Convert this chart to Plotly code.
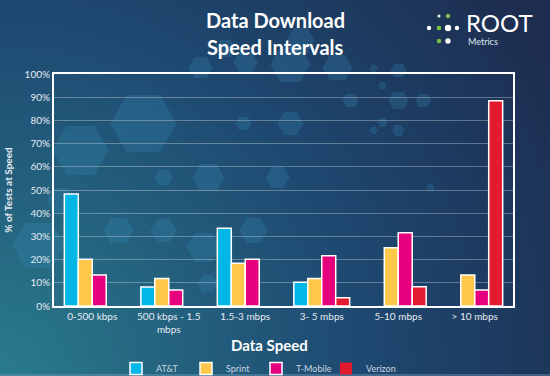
import base64, zlib, struct
import numpy as np
import plotly.graph_objects as go

categories = ["0-500 kbps", "500 kbps - 1.5<br>mbps", "1.5-3 mbps", "3- 5 mbps", "5-10 mbps", "> 10 mbps"]
att = [48.3, 8.2, 33.5, 10.2, 0, 0]
sprint = [20.1, 11.8, 18.4, 11.8, 25.1, 13.4]
tmobile = [13.4, 6.9, 20.1, 21.7, 31.6, 6.9]
verizon = [0, 0, 0, 3.6, 8.3, 88.5]
series_names = ["AT&T", "Sprint", "T-Mobile", "Verizon"]
series_colors = ["#00B7E8", "#FFC84A", "#E6007E", "#E31B30"]
y_ticks = list(range(0, 101, 10))
y_tick_labels = [f"{v}%" for v in y_ticks]

W, H = 550, 376
L, R, T, B = 54, 37, 74, 70
PW, PH = W - L - R, H - T - B

# ---- background image (gradient + decorative hexagons) ----
yy, xx = np.mgrid[0:H, 0:W].astype(float)
d = np.sqrt(xx ** 2 + (H - yy) ** 2)
w = np.clip(1 - d / 640.0, 0, 1)
navy = np.array([29, 45, 80], float)
blue = np.array([31, 74, 114], float)
teal = np.array([42, 124, 140], float)
w1 = np.clip(w / 0.45, 0, 1)[..., None]
w2 = np.clip((w - 0.45) / 0.55, 0, 1)[..., None]
img = navy + (blue - navy) * w1 + (teal - blue) * w2

hexes = [
    (143, 123, 33), (80, 150, 28), (163, 177, 9), (118, 230, 15), (163, 230, 13),
    (38, 245, 26), (243, 123, 8), (290, 123, 13), (208, 177, 16), (277, 177, 12),
    (253, 230, 14), (203, 247, 17), (207, 283, 10), (200, 67, 12), (290, 64, 20),
    (337, 67, 15), (350, 100, 8), (398, 70, 8), (398, 100, 10), (423, 100, 8),
    (382, 85, 4), (382, 122, 5), (373, 130, 4), (398, 130, 6), (430, 187, 4),
    (373, 68, 4), (245, 62, 12), (225, 48, 10), (300, 40, 14), (60, 200, 14),
]
s3 = np.sqrt(3)
for cx, cy, r in hexes:
    dx = np.abs(xx - cx)
    dy = np.abs(yy - cy)
    m = (dy <= r * s3 / 2) & (s3 * dx + dy <= s3 * r)
    img[m] = img[m] * 0.75 + np.array([55, 140, 185]) * 0.25
img[H - 2:H] = img[H - 2:H] * 0.6 + np.array([120, 160, 190]) * 0.4

img = np.clip(img, 0, 255).astype(np.uint8)
raw = b"".join(b"\x00" + img[i].tobytes() for i in range(H))

def chunk(tag, data):
    c = struct.pack(">I", len(data)) + tag + data
    return c + struct.pack(">I", zlib.crc32(tag + data) & 0xffffffff)

png = b"\x89PNG\r\n\x1a\n" + chunk(b"IHDR", struct.pack(">IIBBBBB", W, H, 8, 2, 0, 0, 0)) \
    + chunk(b"IDAT", zlib.compress(raw, 9)) + chunk(b"IEND", b"")
bg_src = "data:image/png;base64," + base64.b64encode(png).decode()

fig = go.Figure()
for name, vals, col in zip(series_names, [att, sprint, tmobile, verizon], series_colors):
    fig.add_trace(go.Bar(
        name=name, x=categories, y=vals,
        marker=dict(color=col, line=dict(color="white", width=[1.5 if v > 0 else 0 for v in vals])),
    ))

font = "Lato, 'Open Sans', sans-serif"

def px_x(p):
    return (p - L) / PW

def px_y(p):
    return (H - B - p) / PH

fig.update_layout(
    width=W, height=H,
    margin=dict(l=L, r=R, t=T, b=B, autoexpand=False),
    paper_bgcolor="#1d2d50",
    plot_bgcolor="rgba(0,0,0,0)",
    barmode="group",
    bargap=0.27,
    bargroupgap=0,
    font=dict(family=font, color="#dfe7ef", size=10),
    xaxis=dict(
        showline=True, linecolor="white", linewidth=2, mirror=True,
        showgrid=False, ticks="", tickfont=dict(size=10, color="#e4ebf2"),
        tickangle=0, automargin=False,
    ),
    yaxis=dict(
        range=[0, 100], tickvals=y_ticks, ticktext=y_tick_labels,
        showline=True, linecolor="white", linewidth=2, mirror=True,
        showgrid=True, gridcolor="rgba(255,255,255,0.3)", gridwidth=1,
        zeroline=False, ticks="", tickfont=dict(size=10, color="#e4ebf2"),
        automargin=False,
        title=dict(text="<b>% of Tests at Speed</b>", font=dict(size=10, color="#e4ebf2"), standoff=10),
    ),
    legend=dict(
        orientation="h", x=px_x(116), xref="paper", xanchor="left",
        y=px_y(383), yref="paper", yanchor="bottom",
        font=dict(size=9, color="#c9d5e0"), bgcolor="rgba(0,0,0,0)",
        itemwidth=30, traceorder="normal",
        entrywidth=25, entrywidthmode="pixels",
    ),
    images=[dict(
        source=bg_src, xref="paper", yref="paper",
        x=-L / PW, y=1 + T / PH, sizex=W / PW, sizey=H / PH,
        xanchor="left", yanchor="top", sizing="stretch", layer="below",
    )],
)

annotations = [
    dict(text="<b>Data Download</b>", x=px_x(275), y=px_y(20), xref="paper", yref="paper",
         showarrow=False, font=dict(size=20, color="white", family=font), xanchor="center", yanchor="middle"),
    dict(text="<b>Speed Intervals</b>", x=px_x(275), y=px_y(47), xref="paper", yref="paper",
         showarrow=False, font=dict(size=20, color="white", family=font), xanchor="center", yanchor="middle"),
    dict(text="<b>Data Speed</b>", x=px_x(269), y=px_y(345), xref="paper", yref="paper",
         showarrow=False, font=dict(size=15, color="white", family=font), xanchor="center", yanchor="middle"),
    dict(text="ROOT", x=px_x(464), y=px_y(23), xref="paper", yref="paper",
         showarrow=False, font=dict(size=24, color="white", family="Lato"), xanchor="left", yanchor="middle"),
    dict(text="Metrics", x=px_x(466), y=px_y(41), xref="paper", yref="paper",
         showarrow=False, font=dict(size=9, color="#dfe7ef", family="Lato"), xanchor="left", yanchor="middle"),
]
fig.update_layout(annotations=annotations)

dots = [(439, 16, 1.5, "white"), (448, 16, 2.2, "#7cc242"),
        (429, 28, 2.2, "white"), (439, 28, 2.3, "#7cc242"), (448, 28, 3.2, "white"), (457, 28, 2.2, "white"),
        (439, 41, 2.2, "#7cc242"), (448, 41, 2.7, "white")]
shapes = []
for px, py, r, c in dots:
    shapes.append(dict(type="circle", xref="paper", yref="paper",
                       x0=px_x(px - r), x1=px_x(px + r),
                       y0=px_y(py + r), y1=px_y(py - r),
                       fillcolor=c, line=dict(width=0), layer="above"))
fig.update_layout(shapes=shapes)

fig.write_html("out.html")
